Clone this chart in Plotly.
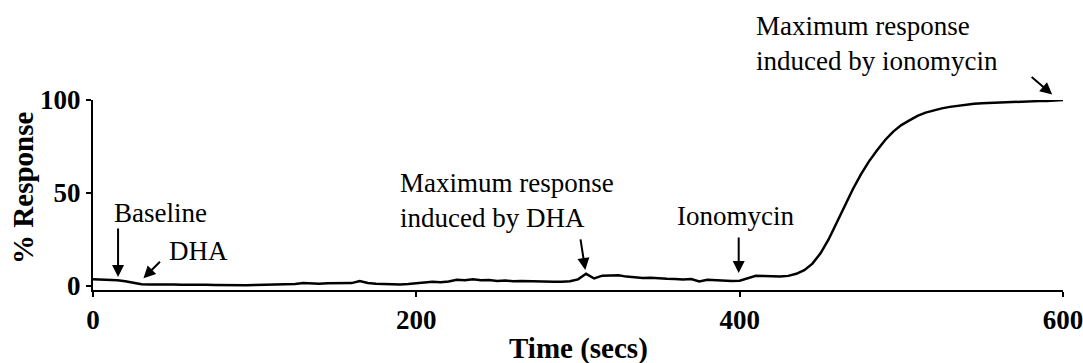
import plotly.graph_objects as go

# Calcium response trace, sampled every 5 seconds
time_s = list(range(0, 601, 5))
response_pct = [
    3.6, 3.5, 3.3, 3.0, 2.5, 1.6, 0.9, 0.8, 0.9, 0.7,
    0.8, 0.6, 0.7, 0.8, 0.6, 0.5, 0.4, 0.3, 0.2, 0.4,
    0.5, 0.6, 0.8, 1.0, 1.3, 1.0, 1.6, 1.2, 1.1, 1.4,
    1.3, 1.2, 1.5, 2.6, 1.6, 1.2, 1.0, 0.9, 0.8, 1.0,
    1.3, 1.6, 2.2, 2.0, 2.4, 3.3, 3.0, 3.6, 3.1, 3.2,
    2.7, 2.9, 2.5, 2.6, 2.4, 2.3, 2.4, 2.2, 2.3, 2.5,
    3.5, 6.5, 4.0, 5.5, 5.6, 5.7, 5.0, 4.6, 4.2, 4.4,
    4.0, 3.8, 3.7, 3.4, 3.7, 2.4, 3.3, 3.0, 2.8, 2.7,
    2.8, 4.3, 5.4, 5.3, 5.2, 5.0, 5.4, 6.5, 8.5, 12.0,
    17.5, 25.0, 34.0, 43.0, 52.0, 60.0, 67.0, 73.0, 78.5, 83.0,
    86.5, 89.0, 91.5, 93.2, 94.5, 95.5, 96.3, 97.0, 97.6, 98.0,
    98.3, 98.5, 98.8, 99.0, 99.1, 99.2, 99.3, 99.4, 99.5, 99.8,
    100.0,
]

x_ticks = [0, 200, 400, 600]
y_ticks = [0, 50, 100]
Y_RANGE = [-2.2, 100]

# Event labels: text, x (secs), y (% response)
event_labels = [
    ("Baseline", 12.0, 39.0),
    ("DHA", 45.5, 18.8),
    ("Maximum response<br>induced by DHA", 188.5, 46.0),
    ("Ionomycin", 360.0, 37.6),
    ("Maximum response<br>induced by ionomycin", 409.0, 130.5),
]

# Arrows: tip x (secs), tip y (% response), tail offset in pixels
event_arrows = [
    (15.5, 4.8, 0, -50),
    (31.2, 4.1, 18, -18),
    (304.5, 8.6, -5, -32),
    (399.4, 7.0, 0, -37),
    (593.3, 102.9, -22, -19),
]

SERIF = "Liberation Serif"


def y_paper(v):
    # convert a % response value to paper units so marks above the axis stay visible
    return (v - Y_RANGE[0]) / (Y_RANGE[1] - Y_RANGE[0])


fig = go.Figure()
fig.add_trace(go.Scatter(
    x=time_s, y=response_pct, mode="lines",
    line=dict(color="black", width=2.5),
    showlegend=False, hoverinfo="skip",
))

annotations = []
for text, x, y in event_labels:
    annotations.append(dict(
        text=text, x=x, y=y_paper(y), xref="x", yref="paper",
        xanchor="left", yanchor="middle", align="left",
        showarrow=False,
        font=dict(family=SERIF, size=27, color="black"),
    ))
for x, y, ax, ay in event_arrows:
    annotations.append(dict(
        text="", x=x, y=y_paper(y), xref="x", yref="paper",
        ax=ax, ay=ay, showarrow=True, font=dict(size=1),
        arrowhead=2, arrowsize=1.2, arrowwidth=2, arrowcolor="black",
    ))

# Axis titles
annotations.append(dict(
    text="% Response", xref="paper", yref="paper",
    x=-0.0722, y=0.537, xanchor="center", yanchor="middle",
    textangle=-90, showarrow=False,
    font=dict(family=SERIF, size=29, color="black", weight="bold"),
))
annotations.append(dict(
    text="Time (secs)", xref="paper", yref="paper",
    x=0.5, y=-0.31, xanchor="center", yanchor="middle",
    showarrow=False,
    font=dict(family=SERIF, size=29, color="black", weight="bold"),
))

fig.update_layout(
    width=1083, height=363,
    margin=dict(l=93, r=20, t=100, b=73, autoexpand=False),
    paper_bgcolor="white", plot_bgcolor="white",
    annotations=annotations,
    xaxis=dict(
        range=[0, 600], tickvals=x_ticks, ticktext=[str(v) for v in x_ticks],
        showline=True, linecolor="black", linewidth=2,
        ticks="outside", ticklen=5, tickwidth=2, tickcolor="black",
        showgrid=False, zeroline=False, ticklabeloverflow="allow",
        automargin=False,
        tickfont=dict(family=SERIF, size=27, color="black", weight="bold"),
    ),
    yaxis=dict(
        range=Y_RANGE, tickvals=y_ticks, ticktext=[str(v) for v in y_ticks],
        showline=True, linecolor="black", linewidth=2,
        ticks="outside", ticklen=5, tickwidth=2, tickcolor="black",
        showgrid=False, zeroline=False, automargin=False,
        tickfont=dict(family=SERIF, size=27, color="black", weight="bold"),
    ),
)

fig.write_html("out.html")
